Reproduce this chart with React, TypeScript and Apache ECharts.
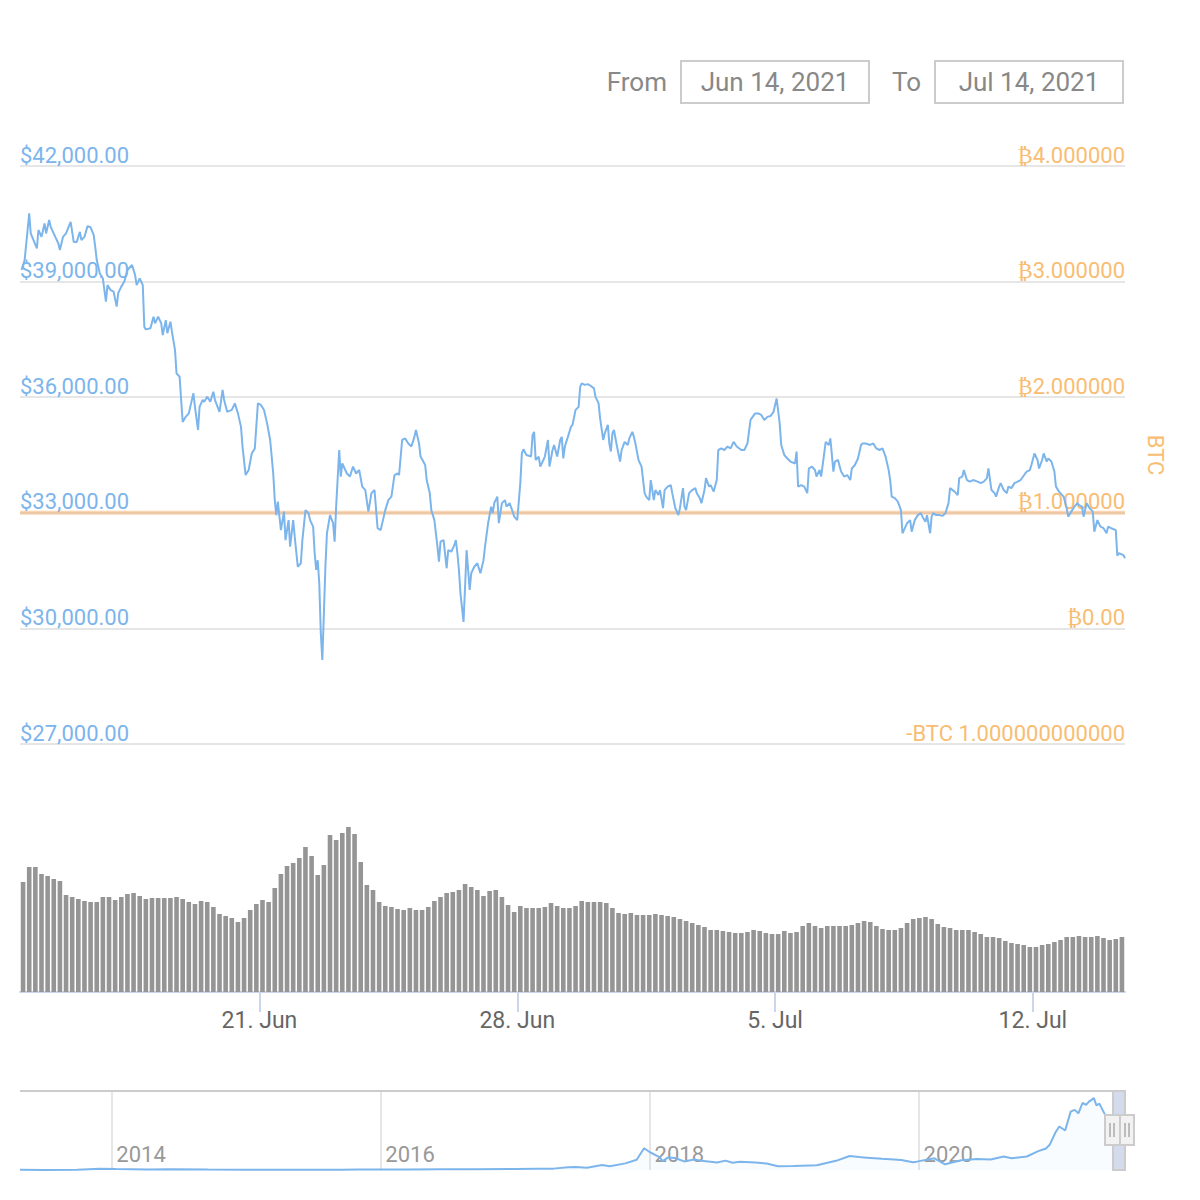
import React, { useEffect, useRef } from "react";
import * as echarts from "echarts";

// ---------- DATA ----------
const START = Date.UTC(2021, 5, 14, 12);
const END = Date.UTC(2021, 6, 14, 12);
const HOUR = 3600 * 1000;

// hours after START, and BTC price in USD
const priceHours = [
  1, 3, 6, 7, 11, 12, 14, 16, 17, 19, 20, 23, 25, 26, 28, 30, 33, 35, 37, 39, 40, 42, 44, 46, 48, 49, 50, 52, 54, 56,
  57, 59, 61, 63, 64, 66, 68, 70, 73, 75, 76, 78, 80, 81, 82, 85, 87, 88, 90, 92, 93, 95, 96, 98, 99, 101, 102, 104,
  105, 106, 108, 110, 112, 113, 114, 116, 117, 119, 120, 122, 124, 126, 127, 130, 132, 133, 135, 138, 140, 142, 144,
  145, 147, 149, 151, 153, 155, 157, 159, 161, 163, 164, 165, 166, 167, 168, 170, 172, 173, 175, 176, 178, 179, 181,
  183, 184, 186, 188, 189, 191, 192, 193, 194, 195, 196, 197, 199, 200, 202, 204, 205, 206, 208, 209, 210, 213, 215,
  217, 219, 221, 223, 225, 227, 229, 231, 233, 235, 238, 240, 242, 244, 246, 247, 249, 251, 253, 255, 257, 258, 260,
  261, 264, 265, 267, 268, 270, 272, 273, 274, 276, 278, 279, 281, 283, 284, 285, 286, 287, 289, 290, 291, 293, 294,
  296, 298, 300, 302, 303, 305, 307, 308, 309, 311, 312, 314, 316, 317, 319, 321, 322, 324, 326, 327, 328, 330, 333,
  334, 335, 336, 338, 339, 341, 342, 344, 345, 347, 348, 350, 352, 353, 354, 355, 357, 359, 360, 362, 364, 365, 366,
  368, 370, 372, 374, 375, 377, 378, 380, 381, 383, 384, 385, 386, 387, 389, 391, 392, 394, 396, 397, 399, 400, 401,
  403, 405, 406, 407, 408, 410, 411, 413, 414, 416, 417, 419, 420, 422, 424, 425, 427, 429, 430, 432, 433, 434, 436,
  438, 440, 441, 443, 444, 446, 447, 449, 450, 452, 454, 455, 457, 459, 461, 463, 465, 467, 470, 472, 474, 476, 479,
  481, 483, 485, 487, 489, 491, 493, 495, 496, 498, 500, 502, 505, 506, 507, 509, 511, 513, 514, 516, 518, 519, 521,
  522, 524, 525, 527, 528, 530, 531, 533, 535, 537, 539, 541, 542, 544, 546, 548, 549, 551, 554, 556, 558, 560, 562,
  564, 566, 567, 568, 570, 572, 574, 575, 577, 578, 580, 581, 583, 585, 587, 588, 590, 591, 593, 594, 595, 597, 599,
  601, 603, 605, 606, 609, 611, 612, 614, 615, 617, 619, 621, 624, 626, 628, 630, 631, 633, 635, 636, 638, 639, 641,
  643, 644, 646, 648, 650, 652, 655, 656, 658, 659, 661, 663, 664, 666, 667, 669, 670, 672, 674, 675, 677, 680, 682,
  683, 685, 687, 689, 690, 692, 693, 695, 697, 699, 700, 702, 704, 706, 708, 709, 711, 714, 715, 716, 719, 720,
];
const priceValues = [
  39300, 39550, 40770, 40250, 39860, 40340, 40160, 40510, 40250, 40600, 40420, 40160, 39990, 39820, 40160, 40250,
  40550, 40030, 40030, 40290, 40080, 40160, 40440, 40410, 40210, 39910, 39560, 39210, 39080, 38480, 38910, 38780,
  38740, 38350, 38700, 38870, 39000, 39300, 39430, 39170, 38910, 39080, 38910, 37830, 37760, 37790, 38090, 37920,
  38090, 37920, 37610, 38000, 37660, 37960, 37700, 37220, 36620, 36530, 35930, 35360, 35490, 35580, 35930, 36100,
  35750, 35150, 35750, 35930, 35880, 36010, 35880, 36140, 35930, 35620, 36190, 35930, 35620, 35670, 35840, 35580,
  35230, 34720, 33980, 34110, 34540, 34670, 35840, 35800, 35670, 35320, 34890, 34460, 34020, 33330, 32940, 33290,
  32550, 33030, 32290, 32810, 32120, 32810, 32380, 31600, 31690, 32290, 33070, 32990, 32810, 32640, 31950, 31520,
  31770, 31170, 29870, 29180, 31600, 32470, 32940, 32730, 32250, 33160, 34630, 33940, 34280, 34020, 33940, 34200,
  34020, 34110, 33680, 33590, 33030, 33510, 33590, 32600, 32550, 33070, 33330, 33420, 33980, 34020, 33980, 34890,
  34930, 34800, 34720, 34970, 35150, 34800, 34460, 34240, 33850, 33510, 33070, 32810, 32120, 31730, 32250, 32290,
  31560, 32030, 31990, 32160, 32290, 31950, 31520, 30910, 30170, 31080, 32030, 31000, 31430, 31600, 31690, 31430,
  31770, 32120, 32730, 33160, 32990, 33250, 33420, 32730, 33250, 33330, 33160, 33250, 33030, 32900, 32810, 33770,
  34540, 34650, 34500, 34460, 35020, 35100, 34370, 34460, 34200, 34370, 34460, 34890, 34200, 34630, 34760, 34460,
  34890, 34970, 34410, 34720, 34970, 35230, 35280, 35670, 35750, 36270, 36360, 36320, 36340, 36290, 36230, 36010,
  35840, 35450, 34890, 35060, 35280, 34800, 34590, 35060, 35150, 34720, 34330, 34630, 34840, 34760, 34930, 35100,
  34970, 34800, 34370, 34200, 33850, 33510, 33420, 33330, 33850, 33330, 33590, 33460, 33590, 33120, 33590, 33680,
  33720, 33510, 33120, 32940, 33120, 33640, 33160, 33070, 33510, 33590, 33640, 33510, 33380, 33250, 33590, 33900,
  33680, 33720, 33550, 33850, 34630, 34670, 34630, 34720, 34670, 34840, 34720, 34630, 34630, 34800, 35410, 35580,
  35580, 35540, 35410, 35490, 35510, 35620, 35970, 35320, 34760, 34500, 34410, 34330, 34280, 34590, 33680, 33720,
  33680, 33510, 34150, 34200, 34110, 33940, 34110, 33940, 34540, 34840, 34760, 34930, 34070, 34330, 34370, 34070,
  33940, 33980, 33850, 34150, 34240, 34410, 34760, 34800, 34800, 34760, 34800, 34670, 34630, 34670, 34460, 34110,
  33850, 33420, 33380, 33290, 33070, 32470, 32640, 32730, 32810, 32510, 32810, 32940, 32990, 32900, 32770, 32940,
  32470, 32900, 32990, 32940, 32940, 32920, 32990, 33250, 33640, 33550, 33460, 33900, 33940, 34110, 33850, 33810,
  33850, 33810, 33770, 33810, 33900, 34150, 33590, 33510, 33420, 33680, 33770, 33590, 33510, 33680, 33640, 33770,
  33810, 33850, 34020, 34070, 34110, 34240, 34540, 34370, 34150, 34370, 34540, 34330, 34410, 34330, 34070, 33680,
  33550, 33420, 33120, 32900, 33030, 33160, 33250, 33200, 33160, 32900, 33250, 33120, 33030, 32510, 32810, 32640,
  32600, 32470, 32640, 32600, 32550, 31890, 31950, 31900, 31820,
];

// Holdings series on the BTC axis (constant 1 BTC)
const btcHoldings = [1, 1];

// Trading volume (rolling 24h, $bn) in 4-hour buckets from START
const volumeValues = [
  11.0, 12.5, 12.5, 11.8, 11.6, 11.3, 11.1, 9.7, 9.5, 9.3, 9.1, 9.0, 9.0, 9.5, 9.5, 9.2, 9.5, 9.8, 9.9, 9.6, 9.3, 9.4,
  9.4, 9.4, 9.4, 9.5, 9.3, 9.0, 8.8, 9.1, 9.0, 8.5, 7.8, 7.6, 7.4, 7.0, 7.4, 8.2, 8.8, 9.2, 9.0, 10.4, 11.8, 12.6,
  12.9, 13.4, 14.5, 13.6, 11.7, 12.7, 15.7, 15.2, 15.9, 16.5, 15.8, 13.0, 10.7, 10.2, 9.0, 8.6, 8.5, 8.3, 8.2, 8.4,
  8.2, 8.2, 8.5, 9.1, 9.5, 9.9, 10.0, 10.2, 10.8, 10.5, 10.2, 9.6, 10.1, 10.2, 9.5, 8.7, 8.0, 8.6, 8.4, 8.4, 8.4, 8.5,
  8.9, 8.6, 8.4, 8.4, 8.6, 9.1, 9.0, 9.0, 9.0, 8.9, 8.4, 7.9, 7.8, 7.9, 7.7, 7.7, 7.7, 7.8, 7.7, 7.6, 7.5, 7.3, 7.1,
  6.9, 6.7, 6.5, 6.2, 6.2, 6.1, 6.0, 5.9, 5.9, 6.0, 6.2, 6.1, 5.9, 5.8, 5.8, 6.1, 5.9, 6.0, 6.6, 6.9, 6.6, 6.4, 6.6,
  6.6, 6.6, 6.6, 6.7, 6.9, 7.1, 7.0, 6.6, 6.3, 6.2, 6.2, 6.4, 6.9, 7.3, 7.4, 7.5, 7.3, 6.8, 6.5, 6.4, 6.2, 6.2, 6.2,
  6.0, 5.8, 5.5, 5.5, 5.4, 5.1, 4.9, 4.8, 4.7, 4.5, 4.5, 4.7, 4.8, 5.0, 5.2, 5.5, 5.5, 5.6, 5.5, 5.5, 5.6, 5.4, 5.2,
  5.3, 5.5,
];
const volumeBucketHours = 4;

// x-axis tick dates for the main chart
const weekTicks = [Date.UTC(2021, 5, 21), Date.UTC(2021, 5, 28), Date.UTC(2021, 6, 5), Date.UTC(2021, 6, 12)];
const monthNames = ["Jan", "Feb", "Mar", "Apr", "May", "Jun", "Jul", "Aug", "Sep", "Oct", "Nov", "Dec"];

// price axis (USD) and holdings axis (BTC)
const usdMin = 27000;
const usdMax = 42000;
const usdStep = 3000;
const btcMin = -1;
const btcMax = 4;
const btcStep = 1;

// Navigator: full history
const navDates = [
  "2013-04-28", "2013-07-05", "2013-10-01", "2013-11-30", "2014-01-15", "2014-04-10", "2014-06-05", "2014-09-20",
  "2014-12-31", "2015-03-15", "2015-06-15", "2015-09-15", "2015-11-05", "2015-12-31", "2016-03-15", "2016-06-16",
  "2016-09-15", "2016-12-31", "2017-03-01", "2017-04-15", "2017-05-25", "2017-06-15", "2017-07-15", "2017-08-25",
  "2017-09-15", "2017-10-27", "2017-11-27", "2017-12-17", "2018-01-02", "2018-01-28", "2018-02-06", "2018-02-20",
  "2018-03-11", "2018-04-05", "2018-05-01", "2018-05-22", "2018-07-03", "2018-07-26", "2018-08-14", "2018-09-03",
  "2018-10-15", "2018-11-15", "2018-12-15", "2019-01-27", "2019-03-31", "2019-05-22", "2019-06-28", "2019-07-24",
  "2019-08-14", "2019-09-24", "2019-10-26", "2019-11-15", "2019-12-17", "2019-12-27", "2020-02-13", "2020-03-13",
  "2020-04-26", "2020-06-07", "2020-07-15", "2020-08-19", "2020-09-10", "2020-10-21", "2020-11-21", "2020-12-12",
  "2020-12-22", "2021-01-07", "2021-01-17", "2021-02-02", "2021-02-17", "2021-02-28", "2021-03-10", "2021-03-21",
  "2021-03-31", "2021-04-07", "2021-04-21", "2021-04-28", "2021-05-06", "2021-05-25", "2021-06-14", "2021-07-14",
];
const navPrices = [
  135, 80, 125, 1100, 850, 420, 650, 410, 320, 280, 240, 230, 400, 430, 415, 750, 610, 960, 1200, 1200, 2400, 2600,
  2000, 4300, 3300, 5800, 9000, 19000, 15500, 11300, 7800, 11000, 10500, 7500, 9200, 8000, 6600, 8200, 6300, 7200,
  6500, 5600, 3300, 3500, 4100, 8000, 12200, 11300, 10800, 9800, 9200, 8700, 6800, 7300, 10200, 5000, 8500, 9700,
  9200, 11800, 10300, 11800, 16500, 18800, 22000, 33000, 38000, 34500, 51000, 52500, 49500, 58500, 57000, 59500,
  62800, 56500, 58000, 46000, 39500, 32000,
];
const navYears = [2014, 2016, 2018, 2020];
const NAV_START = Date.UTC(2013, 3, 28);

// ---------- STYLE ----------
const FONT = "Roboto";
const BLUE = "#7cb5ec";
const ORANGE = "#f7a35c";
const ORANGE_TEXT = "#f8bd72";

function fmtUsd(v: number) {
  return "$" + v.toLocaleString("en-US", { minimumFractionDigits: 2, maximumFractionDigits: 2 });
}
function fmtBtc(v: number) {
  if (v < 0) return "-BTC " + Math.abs(v).toFixed(12);
  if (v === 0) return "\u20BF0.00";
  return "\u20BF" + v.toFixed(6);
}

export default function App() {
  const ref = useRef<HTMLDivElement>(null);

  useEffect(() => {
    if (!ref.current) return;
    const chart = echarts.init(ref.current, null, { renderer: "svg" });

    const priceData = priceHours.map((h, i) => [START + h * HOUR, priceValues[i]]);
    const btcData = [
      [START, btcHoldings[0]],
      [END, btcHoldings[1]],
    ];
    const volData = volumeValues.map((v, i) => [START + (i + 0.5) * volumeBucketHours * HOUR, v]);
    const navData = navDates.map((d, i) => [Date.parse(d + "T00:00:00Z"), navPrices[i]]);
    const navTicks = navYears.map((y) => Date.UTC(y, 0, 1));

    const inputText = (text: string, x: number, align: string) => ({
      type: "text",
      x,
      y: 82,
      style: { text, fill: "#888888", fontSize: 26, fontFamily: FONT, align, verticalAlign: "middle" },
      z: 5,
    });
    const grip = (x: number) => ({
      type: "line",
      shape: { x1: x, y1: 1123, x2: x, y2: 1137 },
      style: { stroke: "#aaaaaa", lineWidth: 1.5 },
      z: 12,
    });

    const option: any = {
      animation: false,
      backgroundColor: "#ffffff",
      textStyle: { fontFamily: FONT },
      grid: [
        { left: 20, right: 75, top: 166, height: 578 },
        { left: 20, right: 75, top: 760, height: 232 },
        { left: 20, right: 75, top: 1091, height: 79 },
      ],
      xAxis: [
        {
          type: "value",
          gridIndex: 0,
          min: START,
          max: END,
          show: false,
          splitLine: { show: false },
        },
        {
          type: "value",
          gridIndex: 1,
          min: START,
          max: END,
          axisLine: { show: true, onZero: false, lineStyle: { color: "#ccd6eb", width: 2 } },
          axisTick: {
            show: true,
            customValues: weekTicks,
            length: 20,
            lineStyle: { color: "#ccd6eb", width: 2 },
          },
          splitLine: { show: false },
          axisLabel: {
            customValues: weekTicks,
            color: "#666666",
            fontSize: 23,
            fontFamily: FONT,
            margin: 17,
            formatter: (v: number) => {
              const d = new Date(v);
              return d.getUTCDate() + ". " + monthNames[d.getUTCMonth()];
            },
          },
        },
        {
          type: "value",
          gridIndex: 2,
          min: NAV_START,
          max: END,
          axisLine: { show: false },
          axisTick: { show: false, customValues: navTicks },
          splitLine: { show: true, lineStyle: { color: "#e6e6e6", width: 2 } },
          axisLabel: {
            customValues: navTicks,
            inside: true,
            color: "#999999",
            fontSize: 22,
            fontFamily: FONT,
            align: "left",
            verticalAlign: "bottom",
            padding: [0, 0, 0, 5],
            margin: 5,
            formatter: (v: number) => String(new Date(v).getUTCFullYear()),
          },
        },
      ],
      yAxis: [
        {
          type: "value",
          gridIndex: 0,
          min: usdMin,
          max: usdMax,
          interval: usdStep,
          position: "left",
          axisLine: { show: false },
          axisTick: { show: false },
          splitLine: { show: true, lineStyle: { color: "#e6e6e6", width: 2 } },
          axisLabel: {
            inside: true,
            margin: 0,
            color: BLUE,
            fontSize: 22,
            fontFamily: FONT,
            verticalAlign: "bottom",
            formatter: fmtUsd,
          },
        },
        {
          type: "value",
          gridIndex: 0,
          min: btcMin,
          max: btcMax,
          interval: btcStep,
          position: "right",
          axisLine: { show: false },
          axisTick: { show: false },
          splitLine: { show: false },
          name: "BTC",
          nameLocation: "middle",
          nameRotate: -90,
          nameGap: 19,
          nameTextStyle: { color: ORANGE_TEXT, fontSize: 22, fontFamily: FONT },
          axisLabel: {
            inside: true,
            margin: 0,
            color: ORANGE_TEXT,
            fontSize: 22,
            fontFamily: FONT,
            verticalAlign: "bottom",
            formatter: fmtBtc,
          },
        },
        {
          type: "value",
          gridIndex: 1,
          min: 0,
          max: 23.2,
          show: false,
          splitLine: { show: false },
        },
        {
          type: "value",
          gridIndex: 2,
          min: 0,
          max: 69000,
          show: false,
          splitLine: { show: false },
        },
      ],
      series: [
        {
          name: "BTC",
          type: "line",
          xAxisIndex: 0,
          yAxisIndex: 1,
          data: btcData,
          showSymbol: false,
          lineStyle: { color: ORANGE, width: 4, opacity: 0.45 },
          itemStyle: { color: ORANGE },
          z: 2,
        },
        {
          name: "Price",
          type: "line",
          xAxisIndex: 0,
          yAxisIndex: 0,
          data: priceData,
          showSymbol: false,
          lineStyle: { color: BLUE, width: 2 },
          itemStyle: { color: BLUE },
          z: 3,
        },
        {
          name: "Volume",
          type: "bar",
          xAxisIndex: 1,
          yAxisIndex: 2,
          data: volData,
          barWidth: 4.6,
          itemStyle: { color: "#959595" },
        },
        {
          name: "Navigator",
          type: "line",
          xAxisIndex: 2,
          yAxisIndex: 3,
          data: navData,
          showSymbol: false,
          lineStyle: { color: BLUE, width: 2 },
          areaStyle: { color: "rgba(124,181,236,0.06)" },
        },
      ],
      graphic: [
        inputText("From", 667, "right"),
        {
          type: "rect",
          shape: { x: 681, y: 61, width: 188, height: 42 },
          style: { fill: "#ffffff", stroke: "#cccccc", lineWidth: 2 },
        },
        inputText("Jun 14, 2021", 775, "center"),
        inputText("To", 921, "right"),
        {
          type: "rect",
          shape: { x: 935, y: 61, width: 188, height: 42 },
          style: { fill: "#ffffff", stroke: "#cccccc", lineWidth: 2 },
        },
        inputText("Jul 14, 2021", 1029, "center"),
        {
          type: "line",
          shape: { x1: 20, y1: 1091, x2: 1125, y2: 1091 },
          style: { stroke: "#cccccc", lineWidth: 2 },
          z: 10,
        },
        {
          type: "rect",
          shape: { x: 1113, y: 1091, width: 12, height: 79 },
          style: { fill: "#d3dbec", stroke: "#cccccc", lineWidth: 2 },
          z: 10,
        },
        {
          type: "rect",
          shape: { x: 1120, y: 1115, width: 14, height: 30 },
          style: { fill: "#f2f2f2", stroke: "#cccccc", lineWidth: 2 },
          z: 11,
        },
        grip(1125),
        grip(1129),
        {
          type: "rect",
          shape: { x: 1105, y: 1115, width: 15, height: 30 },
          style: { fill: "#f2f2f2", stroke: "#cccccc", lineWidth: 2 },
          z: 11,
        },
        grip(1110),
        grip(1114),
      ],
    };

    chart.setOption(option);
    return () => chart.dispose();
  }, []);

  return (
    <div
      ref={ref}
      style={{ position: "fixed", left: 0, top: 0, width: 1200, height: 1200, background: "#ffffff" }}
    />
  );
}
